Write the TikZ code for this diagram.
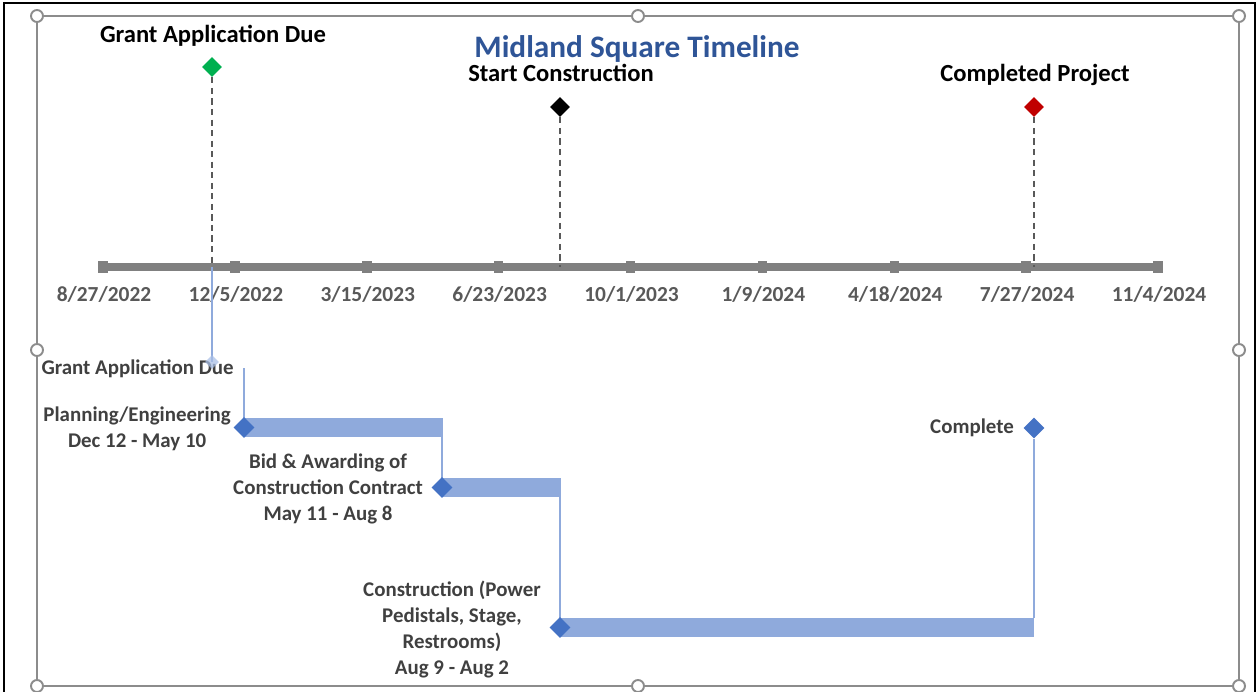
\documentclass[tikz,border=0pt]{standalone}
\usepackage{fontspec}
\setmainfont{Carlito}
\usetikzlibrary{shapes.geometric}
\usetikzlibrary{positioning}

\definecolor{axisgray}{HTML}{808080}
\definecolor{labelgray}{HTML}{595959}
\definecolor{taskgray}{HTML}{404040}
\definecolor{titleblue}{HTML}{2F5597}
\definecolor{barblue}{HTML}{8FAADC}
\definecolor{markblue}{HTML}{4472C4}
\definecolor{paleblue}{HTML}{A9BFE6}
\definecolor{msgreen}{HTML}{00B050}
\definecolor{msred}{HTML}{C00000}
\definecolor{framegray}{HTML}{8C8C8C}

\begin{document}
\begin{tikzpicture}[x=0.02cm,y=-0.02cm]
      \tikzset{
        every node/.style={inner sep=0pt},
        milestone/.style={diamond, minimum size=0.4cm},
        taskmark/.style={diamond, minimum size=0.42cm, fill=markblue},
        tickmark/.style={rectangle, fill=axisgray, minimum width=0.19cm, minimum height=0.26cm},
        datetext/.style={font=\fontsize{12.2}{14}\selectfont\bfseries, text=labelgray, anchor=base},
        mstext/.style={font=\fontsize{14}{16}\selectfont\bfseries, anchor=base},
        tasktext/.style={font=\fontsize{11.9}{14.8}\selectfont\bfseries, text=taskgray, align=center},
        bar/.style={barblue, line width=10.8pt},
        link/.style={barblue, line width=0.9pt},
        drop/.style={labelgray, line width=0.7pt, dash pattern=on 3.5pt off 2.5pt},
        handle/.style={circle, draw=framegray, fill=white, line width=1.1pt, minimum size=0.24cm},
      }
      \useasboundingbox (0,0) rectangle (1257,692);

      % outer border and selection frame
      \draw[black, line width=1.2pt] (4,692) -- (4,3) -- (1255,3) -- (1255,692);
      \draw[framegray, line width=1.3pt] (37,16) rectangle (1239,686);
      \foreach \hx/\hy [count=\k] in {37/16, 638/16, 1239/16, 37/350, 1239/350, 37/686, 638/686, 1239/686}
        \node[handle] (h\k) at (\hx,\hy) {};

      % time axis
      \draw[axisgray, line width=5.1pt] (103,267) -- (1158,267);
      \foreach \dt [count=\i from 0] in {8/27/2022, 12/5/2022, 3/15/2023, 6/23/2023, 10/1/2023,
                                         1/9/2024, 4/18/2024, 7/27/2024, 11/4/2024} {
        \node[tickmark] (t\i) at ({103+131.875*\i},267) {};
        \node[datetext] (d\i) at ({104+131.875*\i},302) {\dt};
      }

      % milestones
      \node[font=\fontsize{17.8}{20}\selectfont\bfseries, text=titleblue, anchor=base, text depth=0.05em] (title) at (637,58) {Midland Square Timeline};
      \node[milestone, fill=msgreen] (gad) at (212,67) {};
      \node[milestone, fill=black] (sc) at (560,107) {};
      \node[milestone, fill=msred] (cp) at (1034,107) {};
      \node[mstext] (gad-t) at (213,43) {Grant Application Due};
      \node[mstext] (sc-t) at (561,82) {Start Construction};
      \node[mstext] (cp-t) at (1035,82) {Completed Project};
      \coordinate (gad-ax) at (212,267);
      \coordinate (sc-ax) at (560,267);
      \coordinate (cp-ax) at (1034,267);
      \draw[drop] (gad.south) -- (gad-ax);
      \draw[drop] (sc.south) -- (sc-ax);
      \draw[drop] (cp.south) -- (cp-ax);

      % tasks
      \coordinate (gad-low) at (212,362);
      \coordinate (pe-up) at (244,368);
      \coordinate (pe-s) at (244,427.5);
      \coordinate (pe-e) at (442,427.5);
      \coordinate (bid-up) at (442,418);
      \coordinate (bid-s) at (442,487.5);
      \coordinate (bid-e) at (560,487.5);
      \coordinate (con-up) at (560,478);
      \coordinate (con-s) at (560,627.5);
      \coordinate (con-e) at (1034,627.5);
      \coordinate (cmp-up) at (1034,618);

      \draw[bar] (pe-s) -- (pe-e);
      \draw[bar] (bid-s) -- (bid-e);
      \draw[bar] (con-s) -- (con-e);
      \draw[link] (gad-ax) -- (gad-low);
      \draw[link] (pe-up) -- (pe-s);
      \draw[link] (bid-up) -- (bid-s);
      \draw[link] (con-up) -- (con-s);

      \node[taskmark] (pe) at (pe-s) {};
      \node[taskmark] (bid) at (bid-s) {};
      \node[taskmark] (con) at (con-s) {};
      \node[taskmark] (cmp) at (1034,428) {};
      \draw[link] (cmp-up) -- (cmp.south);

      \node[tasktext, anchor=east] (gad-l) at (234,369) {Grant Application Due};
      \node[diamond, minimum size=0.28cm, fill=paleblue, opacity=0.75] (gad-m) at (gad-low) {};
      \node[tasktext, left=0.04cm of pe, yshift=-0.02cm] (pe-l) {Planning/Engineering\\Dec 12 - May 10};
      \node[tasktext, left=0.16cm of bid, yshift=-0.03cm] (bid-l) {Bid \& Awarding of\\Construction Contract\\May 11 - Aug 8};
      \node[tasktext, left=0.16cm of con, yshift=-0.04cm] (con-l) {Construction (Power\\Pedistals, Stage,\\Restrooms)\\Aug 9 - Aug 2};
      \node[tasktext, left=0.18cm of cmp] (cmp-l) {Complete};
\end{tikzpicture}
\end{document}
